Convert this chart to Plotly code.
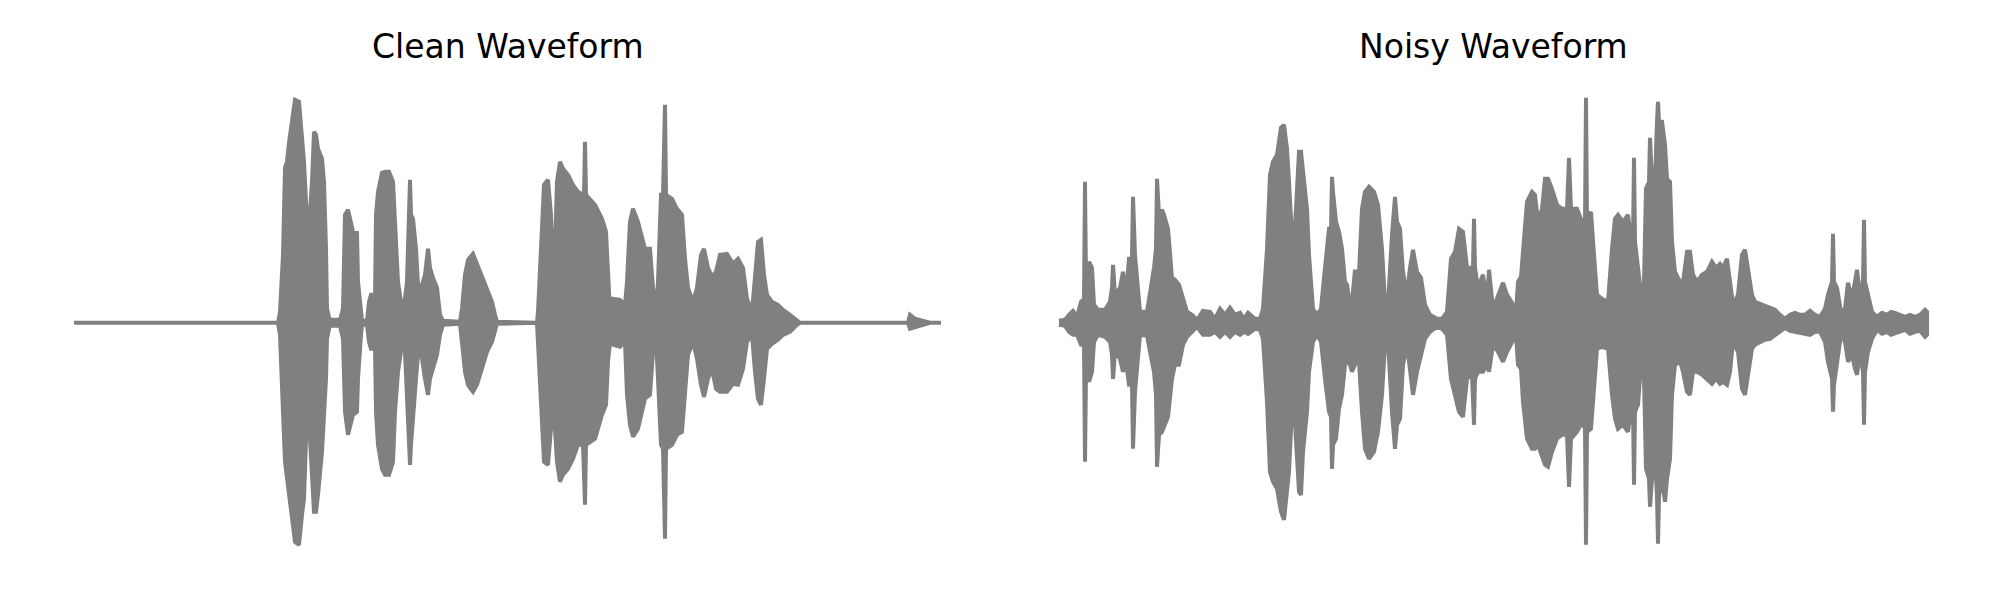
import plotly.graph_objects as go

# ---- data: waveform envelopes (frame index, upper / lower amplitude) ----
clean_frames = [0, 204, 206, 208, 209, 211, 213, 215, 219, 221, 225, 228, 230, 233, 234, 238, 240, 242, 244, 248,
                250, 252, 253, 255, 256, 266, 269, 271, 274, 279, 283, 284, 287, 288, 293, 295, 297, 299, 301, 302,
                304, 308, 311, 315, 319, 321, 324, 328, 331, 333, 335, 336, 337, 339, 342, 344, 347, 351, 354, 356,
                359, 363, 366, 369, 386, 388, 391, 394, 399, 403, 408, 413, 418, 421, 423, 463, 464, 467, 470, 474,
                477, 479, 481, 483, 486, 489, 494, 499, 504, 509, 510, 511, 512, 521, 528, 532, 534, 536, 539, 546,
                551, 553, 556, 559, 564, 571, 576, 579, 582, 584, 587, 589, 591, 592, 598, 603, 608, 611, 614, 619,
                623, 627, 630, 634, 638, 642, 646, 653, 659, 664, 669, 673, 678, 681, 684, 687, 690, 693, 698, 704,
                709, 716, 723, 726, 834, 836, 841, 849, 856, 867]
clean_upper = [0, 0, 11, 41, 68, 155, 161, 180, 211, 223, 221, 180, 161, 101, 81, 141, 191, 188, 174, 164,
               141, 74, 14, 6, 3, 3, 14, 108, 113, 91, 90, 41, 8, 2, 2, 21, 28, 28, 21, 108,
               131, 150, 151, 151, 141, 101, 41, 14, 24, 41, 108, 143, 108, 104, 74, 38, 35, 48, 74, 55,
               45, 35, 8, 2, 1, 14, 48, 63, 69, 59, 45, 35, 21, 8, 1, 0, 11, 74, 138, 143,
               108, 48, 74, 141, 161, 154, 148, 138, 131, 128, 128, 181, 128, 118, 104, 91, 41, 11, 24, 23,
               18, 41, 101, 114, 101, 74, 74, 35, 14, 41, 128, 128, 218, 128, 124, 114, 108, 64, 35, 21,
               35, 68, 74, 55, 46, 51, 68, 69, 59, 64, 55, 24, 11, 41, 81, 83, 48, 28, 21, 18,
               13, 8, 2, 0, 0, 8, 4, 2, 0, 0]
clean_lower = [0, 0, 12, 52, 89, 139, 149, 172, 202, 219, 222, 192, 176, 89, 79, 156, 189, 189, 172, 129,
               89, 56, 16, 6, 3, 3, 16, 89, 112, 92, 89, 56, 12, 2, 2, 19, 26, 26, 22, 89,
               122, 146, 152, 152, 139, 89, 49, 22, 29, 89, 122, 142, 122, 89, 56, 32, 29, 56, 72, 56,
               46, 32, 12, 2, 1, 16, 49, 62, 69, 62, 46, 29, 19, 9, 1, 0, 12, 72, 139, 142,
               106, 56, 106, 139, 159, 152, 146, 136, 122, 122, 122, 182, 122, 116, 92, 82, 39, 19, 22, 24,
               19, 72, 102, 114, 106, 76, 72, 29, 16, 56, 122, 126, 216, 126, 122, 112, 109, 72, 32, 19,
               36, 62, 74, 56, 46, 66, 69, 69, 61, 62, 46, 19, 12, 49, 76, 82, 56, 26, 21, 17,
               12, 9, 2, 0, 0, 6, 4, 2, 0, 0]

noisy_frames = [0, 6, 10, 14, 18, 22, 25, 26, 27, 30, 33, 35, 39, 46, 51, 53, 54, 56, 61, 64,
                67, 70, 73, 74, 76, 78, 81, 88, 93, 95, 97, 98, 100, 103, 105, 109, 113, 116, 120, 124,
                128, 133, 138, 144, 151, 156, 161, 166, 171, 176, 181, 185, 189, 196, 201, 204, 208, 211, 214, 218,
                222, 225, 228, 230, 234, 237, 240, 242, 244, 248, 250, 254, 258, 262, 266, 270, 272, 273, 274, 277,
                280, 283, 286, 288, 290, 293, 296, 299, 303, 306, 310, 315, 319, 323, 326, 329, 333, 336, 338, 341,
                344, 348, 351, 354, 358, 362, 366, 371, 378, 383, 388, 392, 396, 400, 404, 408, 413, 414, 415, 416,
                419, 424, 428, 430, 434, 439, 444, 448, 453, 457, 459, 462, 464, 468, 473, 476, 479, 483, 486, 489,
                493, 498, 503, 508, 510, 512, 518, 523, 526, 527, 528, 532, 535, 538, 543, 549, 553, 556, 559, 564,
                569, 572, 574, 575, 576, 579, 583, 585, 587, 590, 591, 593, 596, 598, 599, 600, 603, 606, 608, 611,
                613, 616, 621, 624, 628, 631, 634, 638, 643, 648, 653, 657, 661, 664, 668, 671, 674, 679, 683, 686,
                689, 693, 696, 701, 706, 711, 716, 721, 726, 731, 736, 741, 746, 751, 756, 761, 766, 769, 773, 774,
                775, 778, 782, 786, 789, 793, 796, 798, 801, 804, 805, 806, 809, 813, 818, 823, 828, 832, 836, 841,
                846, 851, 856, 861, 866, 868]
noisy_upper = [2, 3, 8, 12, 6, 21, 24, 141, 41, 61, 55, 18, 13, 13, 21, 35, 58, 28, 35, 51,
               28, 64, 64, 126, 68, 41, 11, 11, 41, 55, 74, 144, 108, 113, 108, 94, 45, 43, 38, 24,
               11, 8, 3, 12, 11, 4, 14, 8, 15, 8, 10, 4, 10, 4, 4, 14, 74, 148, 161, 168,
               195, 198, 174, 141, 68, 114, 171, 171, 151, 114, 68, 14, 8, 14, 55, 94, 94, 146, 131, 101,
               91, 74, 41, 38, 24, 21, 53, 28, 114, 131, 136, 131, 118, 74, 21, 18, 88, 126, 101, 94,
               51, 28, 55, 73, 51, 45, 18, 8, 4, 4, 11, 64, 71, 94, 91, 55, 55, 55, 104, 55,
               35, 48, 21, 53, 14, 28, 40, 28, 20, 11, 41, 46, 74, 121, 131, 128, 101, 114, 144, 144,
               134, 118, 114, 114, 165, 114, 114, 101, 101, 225, 101, 111, 68, 28, 24, 21, 74, 104, 108, 101,
               108, 84, 84, 165, 81, 55, 21, 41, 134, 141, 185, 141, 141, 201, 221, 201, 201, 178, 144, 141,
               81, 51, 41, 41, 71, 71, 48, 41, 48, 51, 61, 55, 59, 55, 64, 41, 18, 28, 68, 73,
               55, 28, 21, 19, 16, 14, 13, 8, 4, 8, 10, 8, 8, 12, 8, 6, 14, 28, 41, 89,
               41, 35, 11, 14, 40, 24, 41, 53, 28, 41, 103, 41, 28, 11, 6, 10, 8, 11, 10, 8,
               6, 8, 6, 8, 13, 11]
noisy_lower = [2, 3, 9, 12, 12, 22, 22, 139, 49, 59, 49, 19, 12, 14, 19, 32, 56, 29, 36, 49,
               39, 62, 62, 126, 69, 46, 12, 13, 39, 49, 72, 144, 112, 109, 106, 94, 56, 42, 42, 22,
               14, 9, 4, 12, 12, 9, 14, 9, 14, 9, 12, 9, 11, 6, 7, 16, 79, 149, 159, 166,
               189, 197, 169, 149, 66, 122, 169, 172, 129, 89, 49, 19, 12, 19, 56, 89, 94, 146, 122, 116,
               86, 72, 42, 39, 39, 49, 42, 22, 89, 126, 136, 129, 109, 72, 22, 19, 89, 126, 102, 96,
               42, 22, 49, 72, 49, 32, 16, 9, 4, 6, 12, 56, 72, 89, 94, 56, 52, 56, 102, 56,
               49, 49, 42, 49, 22, 29, 39, 29, 19, 12, 42, 46, 79, 116, 126, 126, 122, 133, 142, 144,
               129, 116, 112, 112, 164, 116, 109, 99, 106, 222, 109, 106, 72, 26, 24, 26, 72, 96, 106, 102,
               109, 86, 86, 162, 89, 82, 29, 56, 146, 156, 184, 156, 136, 173, 221, 173, 156, 179, 156, 136,
               72, 42, 39, 49, 69, 72, 49, 49, 52, 56, 61, 56, 61, 59, 62, 49, 19, 29, 66, 72,
               56, 26, 22, 19, 17, 16, 12, 9, 5, 8, 9, 9, 11, 12, 9, 9, 19, 39, 56, 89,
               62, 42, 12, 19, 39, 32, 46, 52, 29, 49, 102, 49, 29, 16, 7, 11, 9, 12, 11, 9,
               7, 11, 9, 8, 14, 12]

titles = ["Clean Waveform", "Noisy Waveform"]

WAVE_COLOR = "#808080"


def outline(frames, upper, lower):
    xs = list(frames) + list(frames[::-1])
    ys = list(upper) + [-v for v in lower[::-1]]
    return xs, ys


fig = go.Figure()
for (fr, up, lo), xa, ya in [((clean_frames, clean_upper, clean_lower), "x", "y"),
                             ((noisy_frames, noisy_upper, noisy_lower), "x2", "y2")]:
    xs, ys = outline(fr, up, lo)
    fig.add_trace(go.Scatter(x=xs, y=ys, xaxis=xa, yaxis=ya, mode="lines", fill="toself",
                             fillcolor=WAVE_COLOR,
                             line=dict(color=WAVE_COLOR, width=4),
                             hoverinfo="skip", showlegend=False))

yr = [-285.2, 314.8]
fig.update_layout(
    width=2000, height=600,
    margin=dict(l=0, r=0, t=0, b=0),
    paper_bgcolor="white", plot_bgcolor="white",
    showlegend=False,
    xaxis=dict(domain=[0, 0.5], range=[-66, 934], visible=False),
    yaxis=dict(domain=[0, 1], range=yr, visible=False, anchor="x"),
    xaxis2=dict(domain=[0.5, 1], range=[-51, 949], visible=False, anchor="y2"),
    yaxis2=dict(domain=[0, 1], range=yr, visible=False, anchor="x2"),
)

for txt, cx in zip(titles, [499.5 / 2000, 1485 / 2000]):
    fig.add_annotation(text=txt, x=cx, y=1 - 38 / 600, xref="paper", yref="paper",
                       xanchor="center", yanchor="middle", showarrow=False,
                       font=dict(family="DejaVu Sans", size=33, color="black"))

fig.write_html("out.html")
